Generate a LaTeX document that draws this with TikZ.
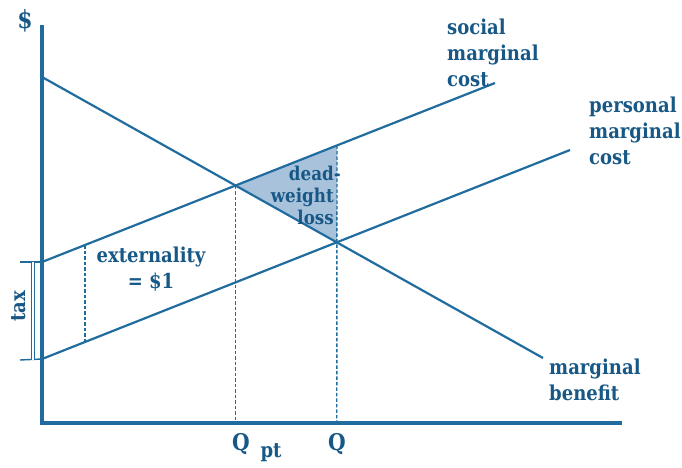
\documentclass[tikz,border=0pt]{standalone}
\usepackage{fontspec}
\setmainfont{DejaVu Serif}[FakeStretch=0.88]
\usetikzlibrary{intersections}
\definecolor{lineblue}{RGB}{32,108,158}
\definecolor{textblue}{RGB}{24,88,134}
\definecolor{dwlfill}{RGB}{168,194,220}
\begin{document}
\begin{tikzpicture}[x=1pt,y=-1pt,
  axis/.style={draw=lineblue,line width=3.2pt},
  curve/.style={draw=lineblue,line width=2.2pt},
  guide/.style={draw=lineblue,line width=1.4pt,dash pattern=on 3.5pt off 2pt},
  bracket/.style={draw=lineblue,line width=1.4pt},
  lbl/.style={text=textblue,font=\bfseries\fontsize{20.5}{26}\selectfont,inner sep=0pt,align=left},
  dwltext/.style={text=textblue,font=\bfseries\fontsize{19}{22}\selectfont,inner sep=0pt},
  qlbl/.style={text=textblue,font=\bfseries\fontsize{23}{26}\selectfont,inner sep=0pt}]
  \useasboundingbox (0,0) rectangle (682,468);

  % axes
  \coordinate (O) at (42,423);
  \coordinate (ytop) at (42,25);
  \coordinate (xend) at (622,423);

  % curve end points
  \coordinate (mb0) at (42,77);
  \coordinate (mb1) at (543,358);
  \coordinate (smc0) at (42,262);
  \coordinate (smc1) at (495,83);
  \coordinate (pmc0) at (42,359);
  \coordinate (pmc1) at (570,150);

  % invisible paths for intersections
  \path[name path=mb] (mb0) -- (mb1);
  \path[name path=smc] (smc0) -- (smc1);
  \path[name path=pmc] (pmc0) -- (pmc1);
  \path[name path=vq] (337,0) -- (337,468);
  \path[name path=vx] (85,0) -- (85,468);
  \path[name intersections={of=mb and smc,by=A}];
  \path[name intersections={of=mb and pmc,by=B}];
  \path[name intersections={of=vq and smc,by=C}];
  \path[name intersections={of=vx and smc,by=E1}];
  \path[name intersections={of=vx and pmc,by=E2}];
  \coordinate (Qpt) at (A |- O);
  \coordinate (Q) at (B |- O);

  % deadweight loss triangle
  \fill[dwlfill] (A) -- (C) -- (B) -- cycle;

  % guides
  \draw[guide] (A) -- (Qpt);
  \draw[guide] (C) -- (Q);
  \draw[guide] (E1) -- (E2);

  % curves
  \draw[curve] (mb0) -- (mb1);
  \draw[curve] (smc0) -- (smc1);
  \draw[curve] (pmc0) -- (pmc1);

  % axes
  \draw[axis] (ytop) -- (O) -- (xend);

  % tax bracket
  \coordinate (t0) at (20,262);
  \coordinate (t1) at (20,360);
  \coordinate (b0) at (33,262);
  \coordinate (b1) at (33,360);
  \draw[bracket] (t0) -- (smc0);
  \draw[bracket] (t1) -- (pmc0);
  \draw[draw=lineblue,line width=0.9pt,double=white,double distance=1.6pt] (b0) -- (b1);
  \node[lbl,rotate=90] (tax) at (19,306) {tax};

  % labels
  \node[text=textblue,font=\bfseries\fontsize{25}{28}\selectfont,inner sep=0pt] (dollar) at (25,21) {\$};
  \node[lbl,anchor=west] (smcl) at (447,53) {social\\marginal\\cost};
  \node[lbl,anchor=west] (pmcl) at (589,131) {personal\\marginal\\cost};
  \node[lbl,anchor=west] (mbl) at (549,380) {marginal\\benefit};
  \node[lbl,align=center] (ext) at (151,269) {externality\\= \$1};
  \node[dwltext,align=right,anchor=east] (dwl) at (334,195) {dead\rlap{-}\\weight\\loss};
  \node[qlbl] (qptl) at (241,444) {Q};
  \node[text=textblue,font=\bfseries\fontsize{20.5}{24}\selectfont,inner sep=0pt] (pt) at (271,453) {pt};
  \node[qlbl] (ql) at (337,444) {Q};
\end{tikzpicture}
\end{document}
